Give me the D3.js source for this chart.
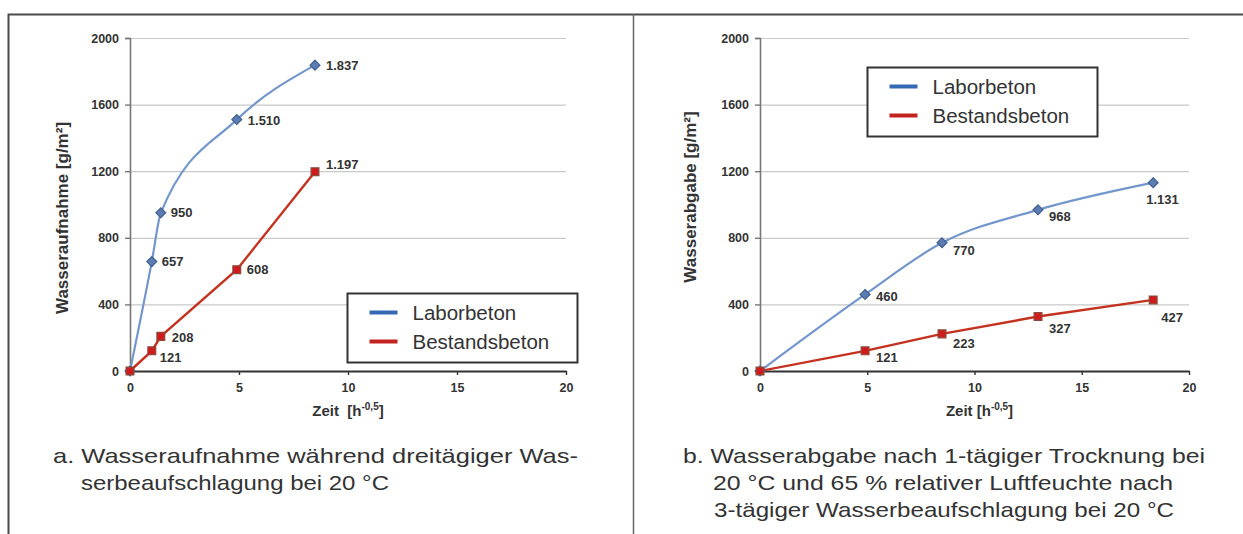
<!DOCTYPE html>
<html>
<head>
<meta charset="utf-8">
<script src="https://cdn.jsdelivr.net/npm/d3@7"></script>
<style>
  body { margin: 0; background: #fff; }
  svg { display: block; }
</style>
</head>
<body>
<svg id="figure" width="1243" height="534"></svg>
<script>
// Zeit in h^0,5: 0, 1 h, 2 h, 1 d, 3 d, 7 d, 14 d
const zeitAufnahme = [0, 1, 1.414, 4.899, 8.485];
const laborAufnahme = [0, 657, 950, 1510, 1837];
const bestandAufnahme = [0, 121, 208, 608, 1197];

const zeitAbgabe = [0, 4.899, 8.485, 12.961, 18.330];
const laborAbgabe = [0, 460, 770, 968, 1131];
const bestandAbgabe = [0, 121, 223, 327, 427];

const xTickValues = [0, 5, 10, 15, 20];
const yTickValues = [0, 400, 800, 1200, 1600, 2000];
const seriesNames = ["Laborbeton", "Bestandsbeton"];

const captionA = ["a. Wasseraufnahme während dreitägiger Was-", "serbeaufschlagung bei 20 °C"];
const captionB = ["b. Wasserabgabe nach 1-tägiger Trocknung bei",
                  "20 °C und 65 % relativer Luftfeuchte nach",
                  "3-tägiger Wasserbeaufschlagung bei 20 °C"];

// label placement relative to each marker (first point carries no label)
const labelShiftA = {
  labor:   [null, [10, 0], [10, 0], [11, 1], [11, 0]],
  bestand: [null, [8, 7], [11, 1], [10, 0], [11, -7]]
};
const labelShiftB = {
  labor:   [null, [11, 2], [11, 8], [11, 7], [-7, 17]],
  bestand: [null, [11, 7], [11, 10], [11, 12], [8, 18]]
};

const de = d3.formatLocale({decimal: ",", thousands: ".", grouping: [3], currency: ["", " €"]});
const fmt = de.format(",d");

const COLORS = {
  laborLine: "#7396cc", laborFill: "#5b7db3", laborStroke: "#3f5f8e",
  bestandLine: "#c4321f", bestandFill: "#cf1b1b", bestandStroke: "#8a4a3c",
  laborKey: "#3569b3", bestandKey: "#c3231f",
  text: "#333"
};

const svg = d3.select("#figure");
svg.append("rect").attr("width", 1243).attr("height", 534).attr("fill", "#fff");

// frame around the two panels
const frame = svg.append("g").attr("fill", "none");
frame.append("path").attr("d", "M8.5,534 V14.5 H1243").attr("stroke", "#4a4a4a").attr("stroke-width", 2);
frame.append("line").attr("x1", 633.5).attr("x2", 633.5).attr("y1", 14).attr("y2", 534)
  .attr("stroke", "#666").attr("stroke-width", 1.5);

function drawPanel(cfg) {
  const g = svg.append("g");
  const x = d3.scaleLinear().domain([0, 20]).range([cfg.left, cfg.right]);
  const y = d3.scaleLinear().domain([0, 2000]).range([cfg.bottom, cfg.top]);

  // horizontal gridlines
  g.append("g")
    .attr("transform", `translate(${cfg.left},0)`)
    .call(d3.axisLeft(y).tickValues(yTickValues.filter(v => v > 0))
      .tickSize(-(cfg.right - cfg.left)).tickFormat(""))
    .call(a => a.select(".domain").remove())
    .call(a => a.selectAll("line").attr("stroke", "#c9c9c9").attr("stroke-width", 1.2));

  // y axis
  g.append("g")
    .attr("transform", `translate(${cfg.left},0)`)
    .call(d3.axisLeft(y).tickValues(yTickValues).tickSize(5).tickPadding(6).tickFormat(d3.format("d")))
    .call(a => a.select(".domain").attr("stroke", "#777").attr("stroke-width", 1.6))
    .call(a => a.selectAll("line").attr("stroke", "#777").attr("stroke-width", 1.4))
    .call(a => a.selectAll("text").attr("fill", COLORS.text)
      .style("font", "bold 12.5px 'Liberation Sans', Arial, sans-serif"));

  // x axis
  g.append("g")
    .attr("transform", `translate(0,${cfg.bottom})`)
    .call(d3.axisBottom(x).tickValues(xTickValues).tickSize(4).tickPadding(8).tickSizeOuter(0))
    .call(a => a.select(".domain").attr("stroke", "#333").attr("stroke-width", 1.8))
    .call(a => a.selectAll("line").attr("stroke", "#333").attr("stroke-width", 1.4))
    .call(a => a.selectAll("text").attr("fill", COLORS.text)
      .style("font", "bold 12.5px 'Liberation Sans', Arial, sans-serif"));

  // axis titles
  g.append("text")
    .attr("transform", `translate(${cfg.yTitleX},${cfg.yTitleY}) rotate(-90)`)
    .attr("text-anchor", "middle").attr("dominant-baseline", "central")
    .attr("fill", COLORS.text)
    .style("font", "bold 17px 'Liberation Sans', Arial, sans-serif")
    .text(cfg.yTitle);

  const xt = g.append("text")
    .attr("x", (cfg.left + cfg.right) / 2 + cfg.xTitleShift).attr("y", cfg.bottom + 45)
    .attr("text-anchor", "middle").attr("fill", COLORS.text)
    .style("font", "bold 15px 'Liberation Sans', Arial, sans-serif")
    .attr("xml:space", "preserve");
  xt.append("tspan").text(cfg.xTitle);
  xt.append("tspan").attr("dy", -6).style("font-size", "10px").text("-0,5");
  xt.append("tspan").attr("dy", 6).text("]");

  const series = [
    {key: "labor", values: cfg.labor, color: COLORS.laborLine, shape: d3.symbolDiamond2,
     fill: COLORS.laborFill, stroke: COLORS.laborStroke, size: 62, width: 2.2, curve: d3.curveMonotoneX},
    {key: "bestand", values: cfg.bestand, color: COLORS.bestandLine, shape: d3.symbolSquare2,
     fill: COLORS.bestandFill, stroke: COLORS.bestandStroke, size: 78, width: 2.4, curve: d3.curveLinear}
  ];

  series.forEach(s => {
    const pts = cfg.zeit.map((t, i) => [t, s.values[i]]);
    const line = d3.line().x(d => x(d[0])).y(d => y(d[1])).curve(s.curve);
    g.append("path").datum(pts)
      .attr("d", line).attr("fill", "none")
      .attr("stroke", s.color).attr("stroke-width", s.width);
  });

  series.forEach(s => {
    const pts = cfg.zeit.map((t, i) => [t, s.values[i]]);
    g.selectAll(null).data(pts).join("path")
      .attr("transform", d => `translate(${x(d[0])},${y(d[1])})`)
      .attr("d", d3.symbol(s.shape, s.size))
      .attr("fill", s.fill).attr("stroke", s.stroke).attr("stroke-width", 1.2);

    g.selectAll(null).data(pts.map((p, i) => ({p, shift: cfg.shifts[s.key][i]})).filter(d => d.shift))
      .join("text")
      .attr("x", d => x(d.p[0]) + d.shift[0])
      .attr("y", d => y(d.p[1]) + d.shift[1])
      .attr("dominant-baseline", "central")
      .attr("fill", COLORS.text)
      .style("font", "bold 13px 'Liberation Sans', Arial, sans-serif")
      .text(d => fmt(d.p[1]));
  });

  // legend
  const lg = g.append("g").attr("transform", `translate(${cfg.legend[0]},${cfg.legend[1]})`);
  lg.append("rect").attr("x", 0).attr("y", 0).attr("width", 230).attr("height", 69)
    .attr("fill", "#fff").attr("stroke", "#333").attr("stroke-width", 2);
  [[seriesNames[0], COLORS.laborKey], [seriesNames[1], COLORS.bestandKey]].forEach(([name, c], i) => {
    const yy = 19 + i * 29;
    lg.append("line").attr("x1", 22).attr("x2", 50).attr("y1", yy).attr("y2", yy)
      .attr("stroke", c).attr("stroke-width", 4);
    lg.append("text").attr("x", 65).attr("y", yy).attr("dominant-baseline", "central")
      .attr("fill", COLORS.text)
      .style("font", "20.5px 'Liberation Sans', Arial, sans-serif")
      .text(name);
  });
}

drawPanel({
  left: 130, right: 566, top: 38, bottom: 371,
  zeit: zeitAufnahme, labor: laborAufnahme, bestand: bestandAufnahme, shifts: labelShiftA,
  yTitle: "Wasseraufnahme [g/m²]", yTitleX: 62, yTitleY: 218,
  xTitle: "Zeit  [h", xTitleShift: 0,
  legend: [347.5, 293.5]
});

drawPanel({
  left: 760, right: 1189, top: 38, bottom: 371,
  zeit: zeitAbgabe, labor: laborAbgabe, bestand: bestandAbgabe, shifts: labelShiftB,
  yTitle: "Wasserabgabe [g/m²]", yTitleX: 690, yTitleY: 197,
  xTitle: "Zeit [h", xTitleShift: 5,
  legend: [867.5, 67.5]
});

// figure captions
function caption(lines) {
  lines.forEach(l => {
    svg.append("text")
      .attr("x", l.x0).attr("y", l.y)
      .attr("textLength", l.x1 - l.x0).attr("lengthAdjust", "spacingAndGlyphs")
      .attr("fill", "#333")
      .style("font", "21px 'Liberation Sans', Arial, sans-serif")
      .text(l.text);
  });
}
caption([
  {text: captionA[0], x0: 53, x1: 578, y: 463},
  {text: captionA[1], x0: 81, x1: 389, y: 490},
  {text: captionB[0], x0: 683, x1: 1205, y: 463},
  {text: captionB[1], x0: 713, x1: 1173, y: 490},
  {text: captionB[2], x0: 714, x1: 1174, y: 517}
]);
</script>
</body>
</html>
